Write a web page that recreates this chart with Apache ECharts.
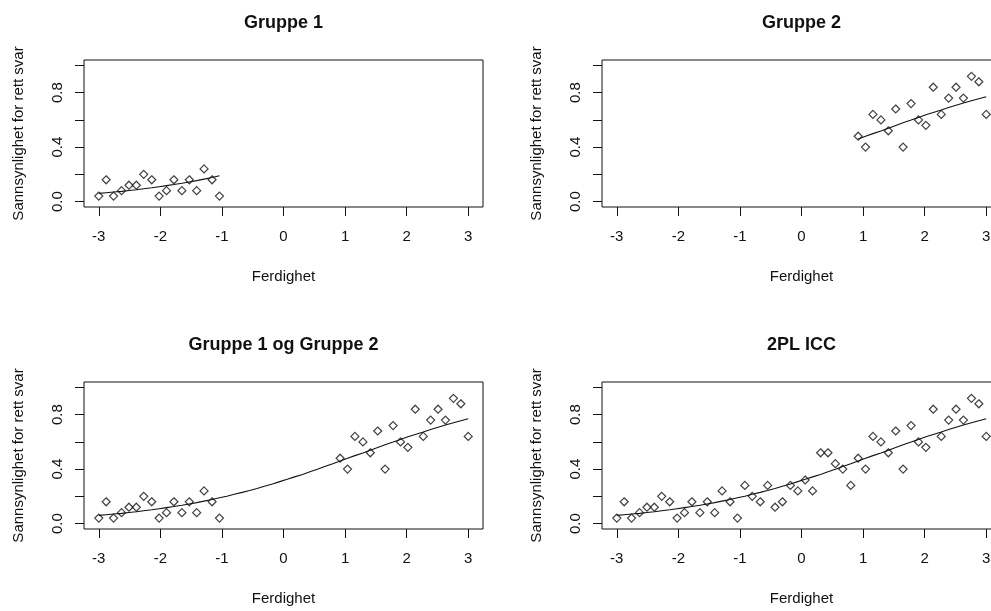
<!DOCTYPE html>
<html>
<head>
<meta charset="utf-8">
<script src="https://cdn.jsdelivr.net/npm/echarts@6/dist/echarts.min.js"></script>
<style>
  html, body { margin: 0; padding: 0; background: #fff; }
  #chart { width: 991px; height: 611px; }
</style>
</head>
<body>
<div id="chart"></div>
<script>
// ferdighet (theta) for each item group
const group1Theta = [-3.00, -2.88, -2.76, -2.63, -2.51, -2.39, -2.27, -2.14, -2.02, -1.90, -1.78, -1.65, -1.53, -1.41, -1.29, -1.16, -1.04]
const middleTheta = [-0.92, -0.80, -0.67, -0.55, -0.43, -0.31, -0.18, -0.06, 0.06, 0.18, 0.31, 0.43, 0.55, 0.67, 0.80]
const group2Theta = [0.92, 1.04, 1.16, 1.29, 1.41, 1.53, 1.65, 1.78, 1.90, 2.02, 2.14, 2.27, 2.39, 2.51, 2.63, 2.76, 2.88, 3.00]

// observert andel rett svar
const group1Prop = [0.04, 0.16, 0.04, 0.08, 0.12, 0.12, 0.20, 0.16, 0.04, 0.08, 0.16, 0.08, 0.16, 0.08, 0.24, 0.16, 0.04]
const middleProp = [0.28, 0.20, 0.16, 0.28, 0.12, 0.16, 0.28, 0.24, 0.32, 0.24, 0.52, 0.52, 0.44, 0.40, 0.28]
const group2Prop = [0.48, 0.40, 0.64, 0.60, 0.52, 0.68, 0.40, 0.72, 0.60, 0.56, 0.84, 0.64, 0.76, 0.84, 0.76, 0.92, 0.88, 0.64]

// ICC-kurve lest av figuren
const group1Curve = [0.060, 0.065, 0.070, 0.075, 0.081, 0.087, 0.094, 0.101, 0.109, 0.117, 0.125, 0.134, 0.144, 0.154, 0.165, 0.177, 0.189]
const middleCurve = [0.201, 0.215, 0.229, 0.243, 0.258, 0.274, 0.290, 0.308, 0.325, 0.343, 0.361, 0.380, 0.399, 0.419, 0.439]
const group2Curve = [0.459, 0.479, 0.499, 0.519, 0.539, 0.559, 0.579, 0.599, 0.618, 0.637, 0.655, 0.673, 0.691, 0.708, 0.724, 0.740, 0.755, 0.770]

const xTicks = [-3, -2, -1, 0, 1, 2, 3]
const yTicks = [0, 0.2, 0.4, 0.6, 0.8, 1.0]
const yLabels = [0, 0.4, 0.8]

const titles = ['Gruppe 1', 'Gruppe 2', 'Gruppe 1 og Gruppe 2', '2PL ICC']

const FONT = '"Liberation Sans", Arial, sans-serif'
const INK = '#111'

const pairs = (xs, ys) => xs.map((x, i) => [x, ys[i]])

const g1Points = pairs(group1Theta, group1Prop)
const g2Points = pairs(group2Theta, group2Prop)
const midPoints = pairs(middleTheta, middleProp)
const g1Line = pairs(group1Theta, group1Curve)
const g2Line = pairs(group2Theta, group2Curve)
const allLine = pairs(group1Theta.concat(middleTheta, group2Theta), group1Curve.concat(middleCurve, group2Curve))

// høyre panel går litt ut over kanten, som i originalen
const grids = [
  { left: 84, top: 60, width: 399, height: 147 },
  { left: 602, top: 60, width: 399, height: 147 },
  { left: 84, top: 382, width: 399, height: 147 },
  { left: 602, top: 382, width: 399, height: 147 }
]

const chart = echarts.init(document.getElementById('chart'))

const option = {
  animation: false,
  backgroundColor: '#fff',
  textStyle: { fontFamily: FONT, color: INK },
  title: grids.map((g, i) => ({
    text: titles[i],
    left: g.left + g.width / 2,
    top: g.top - 46,
    textAlign: 'center',
    padding: 0,
    textStyle: { fontFamily: FONT, fontSize: 18, fontWeight: 'bold', color: INK }
  })),
  grid: grids.map(g => ({
    ...g,
    show: true,
    borderColor: INK,
    borderWidth: 1,
    backgroundColor: 'transparent',
    containLabel: false,
    outerBoundsMode: 'none'
  })),
  xAxis: grids.map((g, i) => ({
    type: 'value',
    gridIndex: i,
    min: -3.24,
    max: 3.24,
    name: 'Ferdighet',
    nameLocation: 'middle',
    nameGap: 62,
    nameTextStyle: { fontFamily: FONT, fontSize: 15, color: INK },
    axisLine: { show: false, onZero: false },
    splitLine: { show: false },
    axisTick: { show: true, length: 9, customValues: xTicks, lineStyle: { color: INK } },
    axisLabel: { customValues: xTicks, margin: 22, fontFamily: FONT, fontSize: 15, color: INK }
  })),
  yAxis: grids.map((g, i) => ({
    type: 'value',
    gridIndex: i,
    min: -0.04,
    max: 1.04,
    name: 'Sannsynlighet for rett svar',
    nameLocation: 'middle',
    nameGap: 58,
    nameTextStyle: { fontFamily: FONT, fontSize: 15, color: INK },
    axisLine: { show: false, onZero: false },
    splitLine: { show: false },
    axisTick: { show: true, length: 9, customValues: yTicks, lineStyle: { color: INK } },
    axisLabel: {
      customValues: yLabels,
      rotate: 90,
      margin: 19,
      fontFamily: FONT,
      fontSize: 15,
      color: INK,
      formatter: v => v.toFixed(1)
    }
  })),
  series: []
}

const scatter = (idx, data) => ({
  type: 'scatter',
  xAxisIndex: idx,
  yAxisIndex: idx,
  data,
  symbol: 'diamond',
  symbolSize: 8,
  itemStyle: { color: 'rgba(0,0,0,0)', borderColor: INK, borderWidth: 1.2 },
  z: 3
})

const curve = (idx, data) => ({
  type: 'line',
  xAxisIndex: idx,
  yAxisIndex: idx,
  data,
  showSymbol: false,
  lineStyle: { color: INK, width: 1.1 },
  z: 2
})

option.series.push(
  scatter(0, g1Points), curve(0, g1Line),
  scatter(1, g2Points), curve(1, g2Line),
  scatter(2, g1Points.concat(g2Points)), curve(2, allLine),
  scatter(3, g1Points.concat(midPoints, g2Points)), curve(3, allLine)
)

chart.setOption(option)
</script>
</body>
</html>
